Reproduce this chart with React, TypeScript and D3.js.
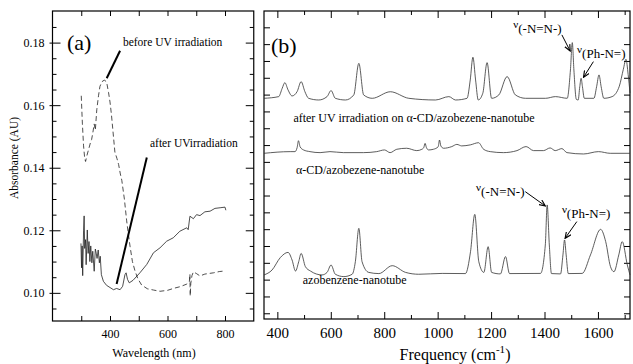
import React, { useEffect, useRef } from 'react';
import * as d3 from 'd3';

const W = 633;
const H = 364;
const SERIF = '"Liberation Serif", "Times New Roman", serif';

// ---- panel (a): UV-vis absorbance ----
const beforeWl = [300, 304, 308, 312, 315, 320, 326, 332, 336, 340, 345, 349, 354, 360, 365, 372, 380, 388, 395, 400, 405, 410, 417, 424, 430, 436, 441, 450, 458, 465, 470, 478, 487, 497, 510, 530, 551, 574, 600, 620, 645, 667, 676, 678, 679, 681, 685, 690, 700, 713, 730, 760, 780, 800];
const beforeAbs = [0.163, 0.154, 0.147, 0.143, 0.142, 0.144, 0.146, 0.148, 0.149, 0.151, 0.154, 0.152, 0.1585, 0.163, 0.166, 0.1675, 0.168, 0.1675, 0.164, 0.161, 0.157, 0.152, 0.145, 0.143, 0.141, 0.138, 0.136, 0.13, 0.123, 0.118, 0.1147, 0.11, 0.107, 0.1045, 0.1025, 0.1013, 0.1009, 0.1005, 0.1008, 0.1014, 0.102, 0.1028, 0.1035, 0.106, 0.099, 0.103, 0.1055, 0.1067, 0.1062, 0.1054, 0.106, 0.1064, 0.1068, 0.107];
const afterWl = [299, 301, 303, 305, 308, 310, 312, 315, 317, 321, 324, 327, 330, 333, 337, 340, 345, 349, 352, 355, 359, 363, 366, 370, 377, 388, 400, 412, 423, 435, 444, 452, 456, 461, 467, 480, 504, 528, 551, 574, 597, 620, 643, 667, 672, 678, 690, 701, 713, 730, 748, 765, 783, 800, 803];
const afterAbs = [0.1158, 0.108, 0.115, 0.1055, 0.1198, 0.1246, 0.1142, 0.117, 0.109, 0.1201, 0.1126, 0.1164, 0.11, 0.115, 0.1096, 0.1133, 0.1069, 0.114, 0.1127, 0.111, 0.1137, 0.1096, 0.1117, 0.1058, 0.1037, 0.1024, 0.1017, 0.101, 0.1014, 0.101, 0.1021, 0.1058, 0.1064, 0.1043, 0.1032, 0.104, 0.1064, 0.1091, 0.1128, 0.1144, 0.1165, 0.1176, 0.1197, 0.1208, 0.1202, 0.1245, 0.1237, 0.125, 0.1247, 0.1259, 0.1261, 0.127, 0.1272, 0.1274, 0.1264];
const wlTicks = [300, 400, 500, 600, 700, 800];
const wlLabels = [400, 600, 800];
const absMajor = [0.1, 0.12, 0.14, 0.16, 0.18];

// ---- panel (b): Raman spectra (arbitrary offsets) ----
const irrFreq = [350, 405, 418, 428, 440, 455, 474, 489, 503, 517, 555, 586, 601, 617, 655, 686, 705, 723, 755, 823, 892, 992, 1042, 1067, 1110, 1122, 1132, 1142, 1152, 1169, 1185, 1202, 1229, 1260, 1291, 1329, 1404, 1441, 1485, 1497, 1504, 1510, 1519, 1526, 1532, 1537, 1542, 1549, 1585, 1595, 1604, 1612, 1622, 1653, 1680, 1695, 1705, 1713, 1720];
const irrInt = [12.78, 12.88, 13.37, 13.71, 13.28, 12.92, 13.18, 13.77, 13.18, 12.78, 12.68, 12.88, 13.24, 12.78, 12.68, 12.98, 14.86, 12.98, 12.78, 13.17, 12.78, 12.68, 12.88, 12.68, 12.78, 13.87, 15.22, 13.87, 12.68, 13.08, 14.9, 12.78, 12.98, 14.07, 12.98, 12.78, 12.78, 12.88, 12.78, 14.46, 16.09, 14.46, 12.72, 12.68, 13.47, 13.97, 13.47, 12.78, 12.78, 13.47, 14.17, 13.47, 12.78, 12.88, 13.5, 14.5, 15.1, 14.2, 13.1];
const cdFreq = [350, 448, 466, 474, 479, 485, 498, 522, 560, 597, 647, 722, 772, 801, 822, 847, 884, 922, 941, 948, 953, 958, 966, 984, 1002, 1007, 1012, 1022, 1053, 1072, 1090, 1122, 1153, 1172, 1197, 1246, 1297, 1331, 1359, 1396, 1421, 1440, 1465, 1484, 1546, 1602, 1646, 1720];
const cdInt = [9.51, 9.61, 9.61, 9.85, 10.26, 9.9, 9.71, 9.61, 9.55, 9.61, 9.55, 9.55, 9.61, 9.71, 9.55, 9.75, 9.81, 9.67, 9.75, 9.85, 10.1, 9.85, 9.71, 9.75, 9.9, 10.3, 9.95, 9.81, 9.91, 10.04, 9.95, 10.01, 10.14, 9.75, 9.61, 9.55, 9.67, 9.91, 9.67, 9.67, 9.83, 9.67, 9.79, 9.55, 9.47, 9.61, 9.51, 9.51];
const azoFreq = [350, 380, 411, 440, 455, 468, 480, 489, 505, 524, 567, 586, 601, 617, 649, 680, 692, 705, 717, 742, 780, 830, 880, 929, 1017, 1104, 1123, 1139, 1154, 1173, 1189, 1202, 1235, 1254, 1269, 1385, 1403, 1410, 1418, 1426, 1460, 1469, 1475, 1481, 1489, 1541, 1572, 1610, 1629, 1647, 1660, 1678, 1691, 1710, 1720];
const azoInt = [2.28, 2.57, 3.31, 3.62, 3.17, 2.51, 3.07, 3.56, 2.77, 2.51, 2.28, 2.43, 2.87, 2.32, 2.18, 2.32, 3.07, 5.05, 3.07, 2.43, 2.36, 2.83, 2.43, 2.32, 2.37, 2.36, 3.66, 5.88, 3.07, 2.43, 3.96, 2.43, 2.34, 3.37, 2.36, 2.37, 4.06, 6.44, 4.06, 2.36, 2.34, 3.47, 4.36, 3.47, 2.36, 2.37, 3.47, 4.99, 4.26, 2.77, 2.47, 3.47, 4.26, 2.87, 2.28];
const freqLabels = [400, 600, 800, 1000, 1200, 1400, 1600];
const freqMinor = [500, 700, 900, 1100, 1300, 1500, 1700];
const intTicks = d3.range(0, 18);

const App = () => {
  const ref = useRef<SVGSVGElement>(null);

  useEffect(() => {
    const svg = d3.select(ref.current);
    svg.selectAll('*').remove();

    const defs = svg.append('defs');
    defs.append('marker')
      .attr('id', 'arr')
      .attr('viewBox', '0 0 10 10')
      .attr('refX', 9).attr('refY', 5)
      .attr('markerWidth', 7).attr('markerHeight', 7)
      .attr('orient', 'auto')
      .append('path')
      .attr('d', 'M0,1 L9,5 L0,9')
      .attr('fill', 'none')
      .attr('stroke', '#000')
      .attr('stroke-width', 1.6);

    const axis = (g, fn, values, size, fmt, fontSize = 12) => {
      const a = g.call(fn.tickValues(values).tickSize(size).tickSizeOuter(0).tickFormat(fmt || (() => '')));
      a.select('.domain').remove();
      a.attr('font-family', SERIF).attr('font-size', fontSize);
      return a;
    };

    // ===== panel (a) =====
    const xA = d3.scaleLinear().domain([200, 900]).range([52.5, 253.75]);
    const yA = d3.scaleLinear().domain([0.091, 0.1901]).range([321, 11]);
    const gA = svg.append('g');
    const absMinor = d3.range(0.095, 0.19, 0.005).filter(v => !absMajor.some(m => Math.abs(m - v) < 1e-6));

    axis(gA.append('g').attr('transform', `translate(0,${yA.range()[0]})`), d3.axisBottom(xA), wlTicks, -5,
      d => (wlLabels.includes(d) ? String(d) : ''))
      .selectAll('text').attr('y', 8.5).attr('dy', '0.71em');
    axis(gA.append('g').attr('transform', `translate(0,${yA.range()[1]})`), d3.axisTop(xA), wlTicks, -5);
    const la = axis(gA.append('g').attr('transform', `translate(${xA.range()[0]},0)`), d3.axisLeft(yA), absMajor, -8,
      d => d3.format('.2f')(d));
    la.selectAll('line').attr('x1', -3);
    la.selectAll('text').attr('x', -8);
    axis(gA.append('g').attr('transform', `translate(${xA.range()[0]},0)`), d3.axisLeft(yA), absMinor, -4);
    axis(gA.append('g').attr('transform', `translate(${xA.range()[1]},0)`), d3.axisRight(yA), absMajor, -8);
    axis(gA.append('g').attr('transform', `translate(${xA.range()[1]},0)`), d3.axisRight(yA), absMinor, -4);

    gA.append('rect')
      .attr('x', xA.range()[0]).attr('y', yA.range()[1])
      .attr('width', xA.range()[1] - xA.range()[0])
      .attr('height', yA.range()[0] - yA.range()[1])
      .attr('fill', 'none').attr('stroke', '#000').attr('stroke-width', 1.2);

    const lineA = d3.line<[number, number]>().x(d => xA(d[0])).y(d => yA(d[1]));
    gA.append('path')
      .attr('d', lineA(d3.zip(beforeWl, beforeAbs) as [number, number][]))
      .attr('fill', 'none').attr('stroke', '#222').attr('stroke-width', 0.8)
      .attr('stroke-dasharray', '5,3');
    gA.append('path')
      .attr('d', lineA(d3.zip(afterWl, afterAbs) as [number, number][]))
      .attr('fill', 'none').attr('stroke', '#222').attr('stroke-width', 0.8);

    gA.append('text').attr('x', xA(250)).attr('y', yA(0.1777))
      .attr('font-family', SERIF).attr('font-size', 22).text('(a)');
    gA.append('text').attr('x', xA(445)).attr('y', yA(0.179))
      .attr('font-family', SERIF).attr('font-size', 11.5).text('before UV irradiation');
    gA.append('line')
      .attr('x1', xA(435)).attr('y1', yA(0.1774)).attr('x2', xA(388.5)).attr('y2', yA(0.1686))
      .attr('stroke', '#000').attr('stroke-width', 2);
    gA.append('text').attr('x', xA(539)).attr('y', yA(0.1466))
      .attr('font-family', SERIF).attr('font-size', 11.5).text('after UVirradiation');
    gA.append('line')
      .attr('x1', xA(528)).attr('y1', yA(0.1433)).attr('x2', xA(423)).attr('y2', yA(0.1028))
      .attr('stroke', '#000').attr('stroke-width', 2);

    gA.append('text')
      .attr('transform', `translate(18,158) rotate(-90)`)
      .attr('text-anchor', 'middle')
      .attr('font-family', SERIF).attr('font-size', 11.5)
      .text('Absorbance (AU)');
    gA.append('text').attr('x', 154).attr('y', 356.5).attr('text-anchor', 'middle')
      .attr('font-family', SERIF).attr('font-size', 12).text('Wavelength (nm)');

    // ===== panel (b) =====
    const xB = d3.scaleLinear().domain([350, 1720]).range([264, 630]);
    const yB = d3.scaleLinear().domain([-0.34, 17.97]).range([319, 11]);
    const gB = svg.append('g');

    axis(gB.append('g').attr('transform', `translate(0,${yB.range()[0]})`), d3.axisBottom(xB), freqLabels, -7,
      d => String(d), 15)
      .selectAll('text').attr('y', 8).attr('dy', '0.71em');
    axis(gB.append('g').attr('transform', `translate(0,${yB.range()[0]})`), d3.axisBottom(xB), freqMinor, -4);
    axis(gB.append('g').attr('transform', `translate(0,${yB.range()[1]})`), d3.axisTop(xB), freqLabels, -7);
    axis(gB.append('g').attr('transform', `translate(0,${yB.range()[1]})`), d3.axisTop(xB), freqMinor, -4);
    axis(gB.append('g').attr('transform', `translate(${xB.range()[0]},0)`), d3.axisLeft(yB), intTicks, -6);
    axis(gB.append('g').attr('transform', `translate(${xB.range()[1]},0)`), d3.axisRight(yB), intTicks, -6);

    gB.append('rect')
      .attr('x', xB.range()[0]).attr('y', yB.range()[1])
      .attr('width', xB.range()[1] - xB.range()[0])
      .attr('height', yB.range()[0] - yB.range()[1])
      .attr('fill', 'none').attr('stroke', '#000').attr('stroke-width', 1.2);

    const lineB = d3.line<[number, number]>().x(d => xB(d[0])).y(d => yB(d[1])).curve(d3.curveMonotoneX);
    [[irrFreq, irrInt], [cdFreq, cdInt], [azoFreq, azoInt]].forEach(([f, v]) => {
      gB.append('path')
        .attr('d', lineB(d3.zip(f, v) as [number, number][]))
        .attr('fill', 'none').attr('stroke', '#333').attr('stroke-width', 0.8);
    });

    gB.append('text').attr('x', xB(376)).attr('y', yB(15.5))
      .attr('font-family', SERIF).attr('font-size', 22).text('(b)');

    const label = (f, v, s) => gB.append('text').attr('x', xB(f)).attr('y', yB(v))
      .attr('font-family', SERIF).attr('font-size', 12).text(s);
    label(460, 11.37, 'after UV irradiation on α-CD/azobezene-nanotube');
    label(470, 8.28, 'α-CD/azobezene-nanotube');
    label(495, 1.74, 'azobenzene-nanotube');

    const nu = (f, v, s) => {
      const t = gB.append('text').attr('x', xB(f)).attr('y', yB(v)).attr('font-family', SERIF);
      t.append('tspan').attr('font-size', 11).attr('dy', -5).text('ν');
      t.append('tspan').attr('font-size', 13).attr('dy', 5).text(s);
    };
    const arrow = (f1, v1, f2, v2) => gB.append('line')
      .attr('x1', xB(f1)).attr('y1', yB(v1)).attr('x2', xB(f2)).attr('y2', yB(v2))
      .attr('stroke', '#000').attr('stroke-width', 1).attr('marker-end', 'url(#arr)');

    nu(1283, 16.66, '(-N=N-)');
    arrow(1465, 16.55, 1496, 15.59);
    nu(1522, 15.18, '(Ph-N=)');
    arrow(1583, 14.96, 1546, 14.03);
    nu(1144, 6.97, '(-N=N-)');
    arrow(1328, 7.23, 1403, 6.38);
    nu(1465, 5.67, '(Ph-N=)');
    arrow(1521, 5.45, 1477, 4.46);

    const fl = gB.append('text').attr('x', 455).attr('y', 360).attr('text-anchor', 'middle')
      .attr('font-family', SERIF).attr('font-size', 16);
    fl.append('tspan').text('Frequency (cm');
    fl.append('tspan').attr('font-size', 11).attr('dy', -7).text('-1');
    fl.append('tspan').attr('dy', 7).text(')');
  }, []);

  return (
    <svg ref={ref} width={W} height={H}
      style={{ position: 'absolute', left: 0, top: 0, background: '#fff' }} />
  );
};

export default App;
